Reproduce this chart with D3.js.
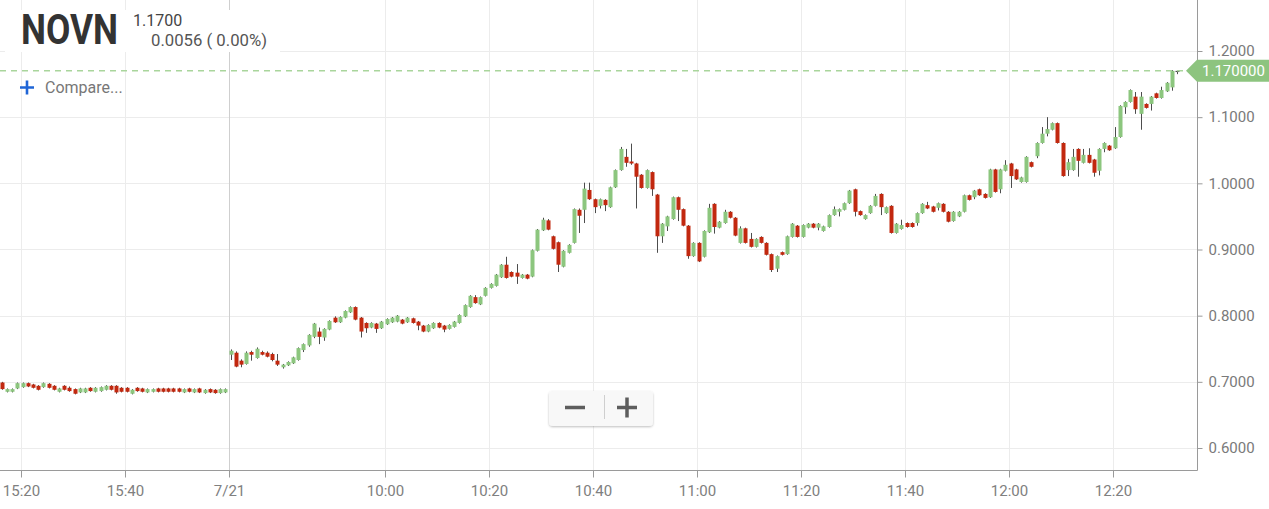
<!DOCTYPE html>
<html><head><meta charset="utf-8">
<script src="https://cdn.jsdelivr.net/npm/d3@7"></script>
<style>body{margin:0;background:#fff;} svg{display:block;font-family:Roboto,"Noto Sans",sans-serif;}</style>
</head><body><svg id="c" width="1269" height="509"></svg>
<script>
const symbol = "NOVN";
const lastPriceText = "1.1700";
const changeText = "0.0056 ( 0.00%)";
const currentPrice = 1.17;
const currentPriceLabel = "1.170000";
// trading-minute index of the first candle (0 = 15:20 previous day, 40 = 9:30 on 7/21)
const firstMinute = -5;
const opens = [
.691,.699,.685,.685,.690,.692,.698,.696,.694,.692,.697,.694,.685,.694,.691,.689,.684,.684,.691,.685,
.686,.688,.694,.694,.691,.691,.682,.691,.690,.684,.685,.690,.690,.690,.690,.690,.684,.690,.684,.690,
.683,.689,.688,.683,.684,
.741,.744,.732,.727,.745,.736,.745,.744,.742,.732,.722,.725,.728,.733,.748,.755,.768,.776,.767,.779,
.797,.790,.797,.805,.813,.797,.789,.782,.788,.781,.787,.790,.791,.794,.790,.796,.791,.785,.776,.781,
.789,.785,.780,.783,.789,.799,.813,.828,.817,.830,.842,.845,.858,.877,.866,.865,.857,.862,.859,.898,
.929,.944,.920,.911,.874,.895,.910,.960,.960,.990,.976,.966,.975,.964,.994,1.020,1.040,1.033,1.030,1.013,
.993,1.017,.983,.920,.935,.946,.979,.961,.936,.890,.910,.889,.926,.969,.933,.940,.957,.948,.910,.932,
.916,.904,.919,.910,.893,.871,.896,.893,.919,.936,.919,.933,.939,.933,.928,.934,.952,.957,.960,.970,
.991,.958,.946,.955,.966,.984,.955,.966,.925,.931,.940,.940,.940,.955,.967,.965,.963,.969,.957,.943,
.950,.957,.982,.979,.991,.984,.979,1.021,.991,1.019,1.030,1.021,1.002,1.002,1.032,1.041,1.061,1.075,1.081,1.091,
1.061,1.020,1.020,1.052,1.031,1.043,1.036,1.019,1.052,1.057,1.053,1.070,1.115,1.123,1.131,1.105,1.120,1.120,1.136,1.129,
1.139,1.145,1.170];
const highs = [
.699,.700,.690,.690,.699,.699,.699,.697,.695,.699,.698,.695,.691,.695,.693,.690,.691,.691,.692,.692,
.693,.695,.695,.695,.692,.692,.689,.692,.691,.690,.690,.691,.691,.691,.691,.691,.690,.691,.690,.691,
.689,.690,.689,.690,.690,
.749,.746,.734,.746,.747,.752,.747,.746,.744,.742,.727,.731,.738,.752,.758,.772,.789,.782,.781,.793,
.799,.799,.808,.814,.814,.798,.790,.790,.789,.792,.796,.798,.801,.795,.798,.797,.792,.786,.787,.790,
.790,.786,.787,.792,.802,.817,.831,.831,.829,.843,.849,.863,.878,.889,.867,.878,.863,.863,.900,.931,
.948,.946,.921,.912,.899,.908,.962,.962,1.001,1.001,.977,.977,.976,.995,1.021,1.055,1.052,1.060,1.031,1.014,
1.021,1.018,.984,.940,.951,.980,.980,.962,.937,.911,.911,.929,.969,.970,.943,.960,.958,.949,.935,.933,
.925,.917,.920,.911,.894,.891,.897,.921,.940,.937,.938,.940,.940,.940,.936,.953,.965,.962,.971,.990,
.992,.959,.953,.967,.984,.985,.965,.967,.940,.945,.941,.941,.956,.970,.972,.966,.971,.970,.958,.958,
.958,.983,.983,.990,.992,.985,1.022,1.022,1.022,1.035,1.031,1.022,1.010,1.041,1.033,1.062,1.085,1.100,1.092,1.092,
1.062,1.037,1.052,1.053,1.052,1.053,1.037,1.053,1.062,1.058,1.085,1.118,1.124,1.142,1.138,1.138,1.121,1.132,1.137,1.146,
1.153,1.171,1.171];
const lows = [
.690,.688,.684,.684,.689,.691,.692,.690,.687,.691,.690,.687,.684,.687,.685,.681,.683,.683,.685,.684,
.685,.687,.687,.682,.684,.684,.681,.685,.684,.683,.684,.684,.684,.684,.684,.684,.683,.684,.683,.683,
.682,.683,.682,.682,.683,
.733,.722,.722,.726,.732,.735,.740,.737,.731,.724,.720,.724,.727,.732,.745,.753,.766,.757,.762,.778,
.789,.789,.796,.804,.793,.767,.774,.781,.774,.780,.786,.789,.790,.787,.789,.788,.778,.775,.775,.780,
.781,.775,.779,.782,.788,.798,.812,.818,.816,.829,.841,.844,.857,.856,.858,.848,.856,.855,.858,.897,
.928,.929,.900,.866,.873,.894,.909,.925,.940,.975,.955,.962,.958,.963,.993,1.019,1.025,1.028,.962,.992,
.992,.981,.895,.910,.928,.945,.943,.935,.886,.889,.881,.888,.925,.924,.932,.939,.947,.920,.909,.909,
.903,.903,.909,.891,.866,.866,.891,.892,.918,.918,.918,.932,.932,.929,.927,.933,.951,.950,.959,.969,
.950,.951,.945,.954,.965,.952,.954,.924,.924,.930,.933,.933,.936,.954,.961,.956,.959,.956,.941,.942,
.949,.956,.974,.976,.981,.977,.978,.986,.985,1.018,.993,1.005,1.001,1.001,1.024,1.038,1.060,1.071,1.080,1.060,
1.010,1.011,1.019,1.010,1.030,1.030,1.010,1.012,1.047,1.049,1.052,1.069,1.105,1.122,1.105,1.081,1.113,1.110,1.128,1.128,
1.138,1.140,1.165];
const closes = [
.698,.689,.689,.689,.698,.698,.693,.691,.688,.698,.691,.688,.690,.688,.686,.682,.690,.690,.686,.691,
.692,.694,.688,.684,.685,.685,.688,.686,.685,.689,.689,.685,.685,.685,.685,.685,.689,.685,.689,.684,
.688,.684,.683,.689,.689,
.747,.723,.726,.744,.741,.750,.741,.738,.733,.726,.726,.730,.737,.751,.757,.771,.788,.768,.780,.792,
.790,.798,.807,.813,.794,.776,.781,.789,.780,.791,.795,.797,.800,.788,.797,.789,.785,.776,.786,.789,
.782,.779,.786,.791,.801,.816,.830,.819,.828,.842,.848,.862,.877,.857,.859,.859,.862,.856,.899,.930,
.945,.930,.901,.877,.898,.907,.961,.951,.992,.976,.964,.976,.967,.994,1.020,1.052,1.031,1.030,1.010,.993,
1.020,.991,.920,.939,.950,.979,.960,.936,.890,.910,.882,.928,.963,.934,.942,.957,.948,.921,.932,.910,
.904,.916,.910,.892,.869,.890,.892,.920,.939,.919,.937,.939,.933,.939,.935,.952,.961,.961,.970,.989,
.957,.952,.952,.966,.981,.964,.964,.925,.939,.937,.934,.934,.955,.969,.962,.957,.970,.957,.942,.957,
.957,.982,.975,.989,.982,.978,1.021,.987,1.021,1.028,1.011,1.006,1.009,1.040,1.025,1.061,1.075,1.082,1.091,1.061,
1.011,1.032,1.040,1.034,1.043,1.031,1.016,1.052,1.061,1.050,1.070,1.117,1.123,1.141,1.112,1.131,1.114,1.131,1.129,1.141,
1.152,1.170,1.170];
const tickMinutes = [0, 20, 40, 70, 90, 110, 130, 150, 170, 190, 210];
const tickLabels = ["15:20","15:40","7/21","10:00","10:20","10:40","11:00","11:20","11:40","12:00","12:20"];
const sessionBreakMinute = 40;
const priceTicks = [0.6, 0.7, 0.8, 0.9, 1.0, 1.1, 1.2];

const W = 1269, H = 509;
const plotRight = 1197, plotBottom = 470;
const svg = d3.select("#c");
const x = d3.scaleLinear().domain([0, 210]).range([21, 1113]);
const y = d3.scaleLinear().domain([0.6, 1.2]).range([448, 51]);
const GREEN = "#8cc67e", RED = "#c2280f", WICK = "#4d4d4d";

const defs = svg.append("defs");
defs.append("clipPath").attr("id","plot").append("rect").attr("x",0).attr("y",0).attr("width",plotRight).attr("height",plotBottom);
const f = defs.append("filter").attr("id","sh").attr("x","-20%").attr("y","-20%").attr("width","140%").attr("height","160%");
f.append("feDropShadow").attr("dx",0).attr("dy",1).attr("stdDeviation",1.2).attr("flood-color","#000").attr("flood-opacity",0.25);

// grid
const grid = svg.append("g");
grid.selectAll(".hg").data(priceTicks).enter().append("line")
  .attr("x1",0).attr("x2",plotRight).attr("y1",d=>Math.round(y(d))+0.5).attr("y2",d=>Math.round(y(d))+0.5)
  .attr("stroke","#ececec").attr("stroke-width",1);
grid.selectAll(".vg").data(tickMinutes).enter().append("line")
  .attr("x1",d=>Math.round(x(d))+0.5).attr("x2",d=>Math.round(x(d))+0.5).attr("y1",0).attr("y2",plotBottom)
  .attr("stroke",d=>d===sessionBreakMinute?"#cfcfcf":"#ececec").attr("stroke-width",1);

// candles
const candles = opens.map((o,i)=>({t:firstMinute+i,o,h:highs[i],l:lows[i],c:closes[i]}));
const cg = svg.append("g").attr("clip-path","url(#plot)");
const cs = cg.selectAll("g.c").data(candles).enter().append("g");
cs.append("line")
  .attr("x1",d=>Math.round(x(d.t+0.5))-0.5).attr("x2",d=>Math.round(x(d.t+0.5))-0.5)
  .attr("y1",d=>y(d.h)).attr("y2",d=>y(d.l)).attr("stroke",WICK).attr("stroke-width",1);
cs.append("rect")
  .attr("x",d=>Math.round(x(d.t+0.5))-2.5).attr("width",4)
  .attr("y",d=>Math.min(y(d.o),y(d.c)))
  .attr("height",d=>Math.max(1.2,Math.abs(y(d.o)-y(d.c))))
  .attr("fill",d=>d.c>d.o?GREEN:(d.c<d.o?RED:WICK));

// current price dashed line
svg.append("line").attr("x1",0).attr("x2",1187).attr("y1",y(currentPrice)).attr("y2",y(currentPrice))
  .attr("stroke","#a9d59c").attr("stroke-width",1.5).attr("stroke-dasharray","6,5");

// axes
svg.append("line").attr("x1",plotRight+0.5).attr("x2",plotRight+0.5).attr("y1",0).attr("y2",plotBottom+0.5).attr("stroke","#9a9a9a");
svg.append("line").attr("x1",0).attr("x2",plotRight+0.5).attr("y1",plotBottom+0.5).attr("y2",plotBottom+0.5).attr("stroke","#9a9a9a");

const ya = svg.append("g").attr("transform",`translate(${plotRight+0.5},0)`)
  .call(d3.axisRight(y).tickValues(priceTicks).tickFormat(d3.format(".4f")).tickSize(5).tickPadding(6));
ya.select(".domain").remove();
ya.selectAll("line").attr("stroke","#9a9a9a");
ya.selectAll("text").attr("fill","#7a7a7a").style("font-size","15px").style("font-family","Roboto");

const xa = svg.append("g").attr("transform",`translate(0,${plotBottom+0.5})`)
  .call(d3.axisBottom(x).tickValues(tickMinutes).tickFormat((d,i)=>tickLabels[i]).tickSize(7).tickPadding(8));
xa.select(".domain").remove();
xa.selectAll("line").attr("stroke","#9a9a9a");
xa.selectAll("text").attr("fill","#808080").style("font-size","15px").style("font-family","Roboto");

// price flag
const py = y(currentPrice);
svg.append("path").attr("d",`M1186,${py} L1197,${py-11} L1269,${py-11} L1269,${py+11} L1197,${py+11} Z`).attr("fill","#8dc47f");
svg.append("text").attr("x",1202).attr("y",py+5.5).attr("fill","#fff").style("font-size","15px").text(currentPriceLabel);

// header
svg.append("rect").attr("x",5).attr("y",10).attr("width",275).attr("height",42).attr("fill","#fff");
svg.append("text").attr("x",21).attr("y",44).attr("fill","#333").style("font-size","42px").style("font-weight","700")
  .attr("textLength",97).attr("lengthAdjust","spacingAndGlyphs").text(symbol);
svg.append("text").attr("x",133).attr("y",26).attr("fill","#444").style("font-size","16px").text(lastPriceText);
svg.append("text").attr("x",151).attr("y",46).attr("fill","#555").style("font-size","16px")
  .attr("textLength",116).attr("lengthAdjust","spacingAndGlyphs").text(changeText);

// compare
svg.append("path").attr("d","M20,87.5 H34 M27,80.5 V94.5").attr("stroke","#1f65d6").attr("stroke-width",2.6);
svg.append("text").attr("x",45).attr("y",93).attr("fill","#777").style("font-size","16px").text("Compare...");

// zoom buttons
const zb = svg.append("g");
zb.append("rect").attr("x",549).attr("y",391).attr("width",104).attr("height",35).attr("rx",4).attr("fill","#f8f8f8").attr("filter","url(#sh)");
zb.append("line").attr("x1",565).attr("x2",585).attr("y1",407.5).attr("y2",407.5).attr("stroke","#5e5e5e").attr("stroke-width",3.5);
zb.append("line").attr("x1",617).attr("x2",637).attr("y1",407.5).attr("y2",407.5).attr("stroke","#5e5e5e").attr("stroke-width",3.5);
zb.append("line").attr("x1",627).attr("x2",627).attr("y1",397.5).attr("y2",417.5).attr("stroke","#5e5e5e").attr("stroke-width",3.5);
zb.append("line").attr("x1",604.5).attr("x2",604.5).attr("y1",395).attr("y2",419).attr("stroke","#cfcfcf").attr("stroke-width",1);
</script></body></html>
